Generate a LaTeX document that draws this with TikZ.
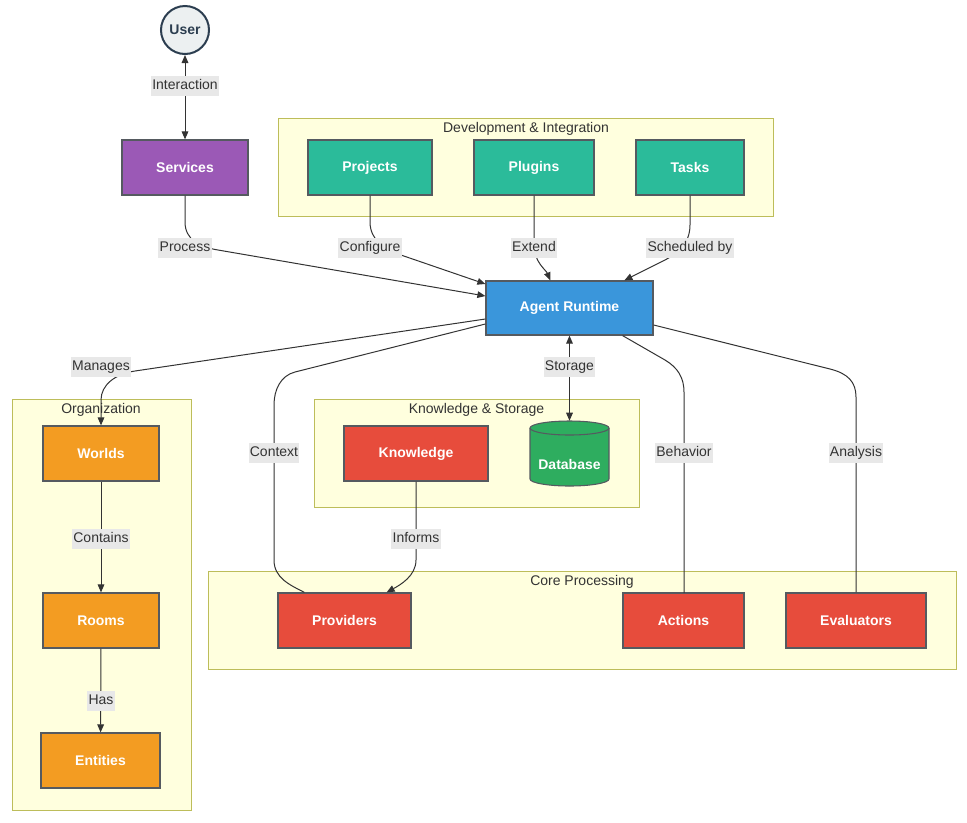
\documentclass[tikz,border=0pt]{standalone}
\usepackage{fontspec}
\setmainfont{Liberation Sans}
\usetikzlibrary{arrows.meta,calc}
\definecolor{cUser}{HTML}{ECF0F1}
\definecolor{cNavy}{HTML}{2C3E50}
\definecolor{cPurple}{HTML}{9B59B6}
\definecolor{cTeal}{HTML}{2BBB9A}
\definecolor{cBlue}{HTML}{3A96DB}
\definecolor{cOrange}{HTML}{F39C22}
\definecolor{cRed}{HTML}{E74C3C}
\definecolor{cGreen}{HTML}{2EAD5F}
\definecolor{cClFill}{HTML}{FFFFDE}
\definecolor{cClDraw}{HTML}{BDBD5A}
\definecolor{cLine}{HTML}{333333}
\definecolor{cLab}{HTML}{E8E8E8}
\definecolor{cBorder}{HTML}{555A60}
\begin{document}
\begin{tikzpicture}[x=0.75pt,y=-0.75pt,
  every node/.style={font=\fontsize{10.5}{12.6}\selectfont},
  box/.style={draw=cBorder,line width=0.95pt,rectangle,inner sep=0pt,
    font=\fontsize{10.5}{12.6}\selectfont\bfseries,text=white,minimum height=41.25pt},
  cluster/.style={draw=cClDraw,fill=cClFill,line width=0.75pt},
  cltitle/.style={text=cLine,inner sep=0pt},
  elab/.style={fill=cLab,text=cLine,inner xsep=1pt,inner ysep=2.5pt,text height=7.5pt,text depth=3pt},
  conn/.style={draw=cLine,line width=0.75pt},
  arr/.style={conn,-{Triangle[length=6pt,width=5pt]}},
  darr/.style={conn,{Triangle[length=6pt,width=5pt]}-{Triangle[length=6pt,width=5pt]}}
]
\useasboundingbox (0,0) rectangle (967,822);

% clusters
\draw[cluster] (278,118) rectangle (773,216);
\node[cltitle] (tdev) at (526,129) {Development \& Integration};
\draw[cluster] (12,399) rectangle (191,810);
\node[cltitle] (torg) at (101,410) {Organization};
\draw[cluster] (314,399) rectangle (639,507);
\node[cltitle] (tks) at (476.5,410) {Knowledge \& Storage};
\draw[cluster] (208,571) rectangle (956,669);
\node[cltitle] (tcore) at (582,582) {Core Processing};

% nodes
\node[circle,draw=cNavy,line width=1.5pt,fill=cUser,minimum size=36pt,inner sep=0pt,
  font=\fontsize{10.5}{12.6}\selectfont\bfseries,text=cNavy] (user) at (185,30) {User};
\node[box,fill=cPurple,minimum width=94.5pt] (services) at (185,167.5) {Services};
\node[box,fill=cTeal,minimum width=93pt] (projects) at (370,167.5) {Projects};
\node[box,fill=cTeal,minimum width=90pt] (plugins) at (534,167.5) {Plugins};
\node[box,fill=cTeal,minimum width=81pt] (tasks) at (690,167.5) {Tasks};
\node[box,fill=cBlue,minimum width=125.25pt,minimum height=40.5pt] (ar) at (569.5,308) {Agent Runtime};
\node[box,fill=cOrange,minimum width=87pt] (worlds) at (101,453.5) {Worlds};
\node[box,fill=cOrange,minimum width=87pt] (rooms) at (101,620.5) {Rooms};
\node[box,fill=cOrange,minimum width=89.25pt] (entities) at (100.5,760.5) {Entities};
\node[box,fill=cRed,minimum width=108pt] (knowledge) at (416,453.5) {Knowledge};
\node[box,fill=cRed,minimum width=99.75pt] (providers) at (344.5,620.5) {Providers};
\node[box,fill=cRed,minimum width=90.75pt] (actions) at (683.5,620.5) {Actions};
\node[box,fill=cRed,minimum width=105pt] (evaluators) at (856,620.5) {Evaluators};

% database cylinder
\filldraw[fill=cGreen,draw=cBorder,line width=0.8pt]
  (530,428) -- (530,479) arc[start angle=180,end angle=0,x radius=39.5,y radius=7]
  -- (609,428) arc[start angle=0,end angle=-180,x radius=39.5,y radius=7] -- cycle;
\draw[draw=cBorder,line width=0.8pt] (530,428) arc[start angle=180,end angle=0,x radius=39.5,y radius=7];
\node[inner sep=0pt,minimum width=59.25pt,minimum height=48.75pt] (db) at (569.5,453.5) {};
\node[inner sep=0pt,font=\fontsize{10.5}{12.6}\selectfont\bfseries,text=white] (dbt) at (569.5,464) {Database};

% connectors
\draw[darr] (user) -- (services);
\draw[arr] (services.south) -- (185,222) .. controls (185,240) and (200,247) .. (218,250) -- ($(ar.west)+(0,-12)$);
\draw[arr] (projects.south) -- (370,222) .. controls (370,240) and (385,249.5) .. (398,254) -- ($(ar.west)+(0,-24)$);
\draw[arr] (plugins.south) -- (534,245) .. controls (534,262) and (546,270) .. ($(ar.north west)+(65,0)$);
\draw[arr] (tasks.south) -- (690,225) .. controls (690,245) and (675.6,254.4) .. (665,260) -- ($(ar.north west)+(139,0)$);
\draw[arr] ($(ar.west)+(0,11)$) -- (135,371) .. controls (115,374) and (101,385) .. (101,400) -- (worlds.north);
\draw[conn] ($(ar.west)+(0,16)$) -- (295,372) .. controls (280.5,375.7) and (274,390) .. (274,405) -- (274,560) .. controls (274,578) and (290,585) .. ($(providers.north west)+(27,0)$);
\draw[darr] (ar.south) -- (db.north);
\draw[conn] ($(ar.south east)+(-31,0)$) -- (665,360) .. controls (678,367.7) and (684,378) .. (684,392) -- (684,593);
\draw[conn] ($(ar.east)+(0,17)$) -- (830,369) .. controls (848,373.5) and (856,382) .. (856,397) -- (evaluators.north);
\draw[arr] (worlds) -- (rooms);
\draw[arr] (rooms) -- (entities);
\draw[arr] (knowledge.south) -- (416,560) .. controls (416,576) and (400,585) .. ($(providers.north east)+(-25,0)$);

% labels
\node[elab] (l1) at (185,86) {Interaction};
\node[elab] (l2) at (185,248) {Process};
\node[elab] (l3) at (370,248) {Configure};
\node[elab] (l4) at (534,248) {Extend};
\node[elab] (l5) at (690,248) {Scheduled by};
\node[elab] (l6) at (101,367) {Manages};
\node[elab] (l7) at (569.5,367) {Storage};
\node[elab] (l8) at (274,453) {Context};
\node[elab] (l9) at (684,453) {Behavior};
\node[elab] (l10) at (856,453) {Analysis};
\node[elab] (l11) at (101,539) {Contains};
\node[elab] (l12) at (416,539) {Informs};
\node[elab] (l13) at (101,701) {Has};
\end{tikzpicture}
\end{document}
